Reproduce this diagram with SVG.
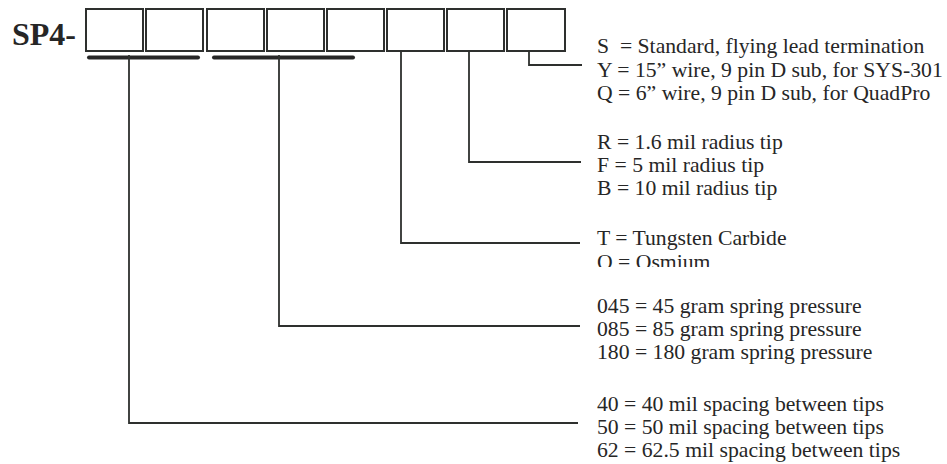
<svg xmlns="http://www.w3.org/2000/svg" width="947" height="464" viewBox="0 0 947 464">
<defs>
<style>
.box{fill:#fff;stroke:#2e302e;stroke-width:2}
.ln{fill:none;stroke:#2e302e;stroke-width:1.8}
.ul{fill:none;stroke:#262626;stroke-width:4;stroke-linecap:round}
.t{font-family:"Liberation Serif","Times New Roman",serif;font-size:21.7px;fill:#262626}
.title{font-family:"Liberation Serif","Times New Roman",serif;font-size:32px;font-weight:bold;fill:#262626}
</style>
<clipPath id="clipO"><rect x="590" y="250" width="200" height="17"/></clipPath>
</defs>
<rect width="947" height="464" fill="#fff"/>
<g id="title"><text class="title" x="12" y="45">SP4-</text></g>
<g id="boxes">
<rect id="box1" class="box" x="86" y="9" width="57" height="42"/>
<rect id="box2" class="box" x="146" y="9" width="57" height="42"/>
<rect id="box3" class="box" x="207" y="9" width="57" height="42"/>
<rect id="box4" class="box" x="267" y="9" width="57" height="42"/>
<rect id="box5" class="box" x="327" y="9" width="57" height="42"/>
<rect id="box6" class="box" x="387" y="9" width="57" height="42"/>
<rect id="box7" class="box" x="447" y="9" width="57" height="42"/>
<rect id="box8" class="box" x="507" y="9" width="58" height="42"/>
</g>
<g id="connectors">
<line class="ul" x1="89" y1="57.5" x2="198" y2="57.5"/>
<line class="ul" x1="214" y1="57.5" x2="353" y2="57.5"/>
<polyline class="ln" points="129,55 129,423 578,423"/>
<polyline class="ln" points="279,55 279,326 580,326"/>
<polyline class="ln" points="401,51 401,243 580,243"/>
<polyline class="ln" points="469,51 469,162 581,162"/>
<polyline class="ln" points="529,51 529,65 582,65"/>
</g>
<g id="legend-termination">
<text class="t" x="597" y="53" xml:space="preserve">S  = Standard, flying lead termination</text>
<text class="t" x="597" y="76.5">Y = 15” wire, 9 pin D sub, for SYS-301</text>
<text class="t" x="597" y="100">Q = 6” wire, 9 pin D sub, for QuadPro</text>
</g>
<g id="legend-radius">
<text class="t" x="597" y="148.5">R = 1.6 mil radius tip</text>
<text class="t" x="597" y="171.5">F = 5 mil radius tip</text>
<text class="t" x="597" y="195">B = 10 mil radius tip</text>
</g>
<g id="legend-material">
<text class="t" x="597" y="245">T = Tungsten Carbide</text>
<text class="t" x="597" y="269" clip-path="url(#clipO)">O = Osmium</text>
</g>
<g id="legend-pressure">
<text class="t" x="597" y="313">045 = 45 gram spring pressure</text>
<text class="t" x="597" y="336">085 = 85 gram spring pressure</text>
<text class="t" x="597" y="359">180 = 180 gram spring pressure</text>
</g>
<g id="legend-spacing">
<text class="t" x="597" y="411">40 = 40 mil spacing between tips</text>
<text class="t" x="597" y="433.5">50 = 50 mil spacing between tips</text>
<text class="t" x="597" y="456.5">62 = 62.5 mil spacing between tips</text>
</g>
</svg>
